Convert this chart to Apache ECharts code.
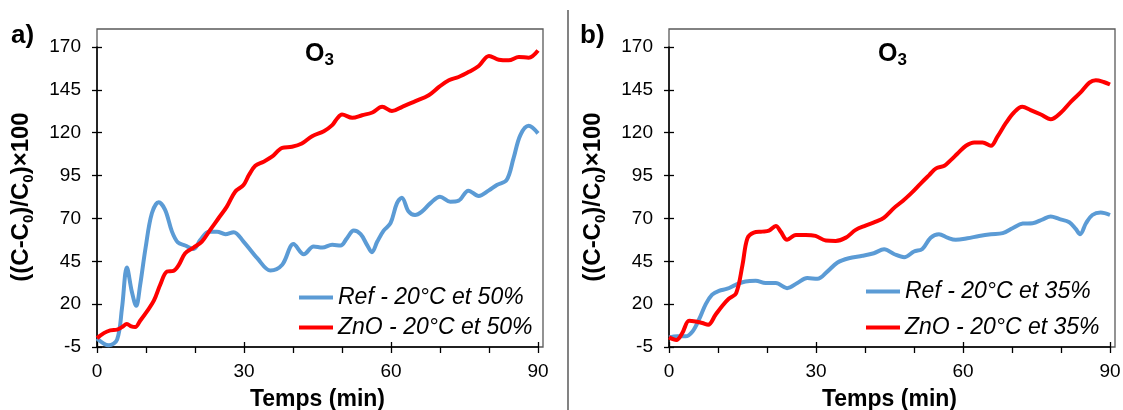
<!DOCTYPE html>
<html><head><meta charset="utf-8">
<script src="https://cdn.jsdelivr.net/npm/echarts@6/dist/echarts.min.js"></script>
<style>html,body{margin:0;padding:0;background:#fff}#c{width:1123px;height:410px}</style>
</head><body><div id="c"></div>
<script>
// ---- tick labels ----
const xTicks = [0, 30, 60, 90];
const yTicks = [-5, 20, 45, 70, 95, 120, 145, 170];

// ---- panel a) : 50 % RH ----
const refA_t = [0, 2.4, 4.1, 5.1, 6.1, 7.1, 8.0, 8.8, 9.9, 11.2, 12.6, 13.9, 15.3, 16.5, 18, 19.7, 21.1, 22.8, 24.5, 26.2, 27.9, 29.9, 32.7, 35.4, 37.8, 40.1, 42.2, 44.2, 46, 48, 49.7, 51, 52.4, 53.8, 55.1, 56.1, 57.2, 58.5, 59.9, 61.2, 62.2, 63.6, 64.9, 66.3, 68, 70, 72.1, 73.8, 75.8, 77.9, 79.9, 81.6, 83.6, 85, 86.4, 88.1, 90];
const refA_v = [0, -4, -0.7, 17.7, 41.4, 27.4, 19, 31, 52.6, 73, 79.4, 75, 62.3, 56, 54.2, 52.2, 57.5, 62.3, 62.3, 60.8, 62, 56.5, 46.8, 39.6, 43, 55.1, 49.1, 53.6, 53, 54.6, 54.2, 58.4, 62.9, 60.8, 54.6, 50.3, 56.5, 62.9, 67.2, 78.8, 82.1, 74, 72, 74, 78.8, 82.7, 79.8, 80.4, 86.2, 83.1, 86.2, 89.5, 92.4, 105, 118.6, 124, 119.6];
const znoA_t = [0, 1.4, 2.7, 4.1, 5.1, 6.1, 7, 7.8, 8.8, 10.2, 11.6, 12.9, 14.3, 15.6, 16.7, 18, 19.7, 21.4, 23.1, 24.8, 26.5, 28.2, 29.9, 31, 32.3, 34, 35.7, 37.8, 39.8, 41.8, 43.9, 46.3, 48, 49, 50, 52.1, 54.1, 56.2, 58.2, 60.2, 62.3, 65, 67.7, 69.8, 71.8, 73.8, 75.9, 77.9, 80, 82, 84, 86.1, 88.1, 90];
const znoA_v = [0.2, 3.1, 4.7, 5.1, 6.6, 8.4, 7, 6.6, 10.3, 15.8, 22, 31.3, 39, 39.4, 42.9, 49.7, 53, 56.5, 63.3, 70.1, 76.9, 85.6, 89.5, 95.3, 100.7, 103.1, 106, 111.2, 111.8, 113.7, 118, 120.9, 124.4, 128.3, 130.6, 128.7, 130.2, 131.8, 135.1, 132.6, 135.1, 138.4, 141.9, 146.7, 150.6, 152.5, 155.5, 158.9, 164.8, 162.6, 162.2, 164.2, 163.8, 168];

// ---- panel b) : 35 % RH ----
const refB_t = [0, 1.7, 3.4, 4.8, 6.1, 7.5, 8.8, 10.2, 11.9, 13.6, 15.6, 17.7, 19.7, 21.8, 24.1, 26.2, 28.2, 30.3, 32.3, 34.4, 36.7, 39.5, 41.8, 43.9, 46, 48, 50, 51.7, 53.4, 55.1, 56.8, 58.5, 60.9, 63.3, 65.7, 68.1, 70.1, 72.2, 74.2, 76.3, 77.9, 79.6, 81.7, 83, 83.9, 85.1, 86.4, 88.1, 90];
const refB_v = [0.6, 1.2, 1.2, 4.1, 10.9, 20, 25.5, 27.8, 29, 31.3, 33.2, 33.6, 32.3, 32.3, 29.3, 32.3, 35.2, 34.8, 39, 44.3, 46.8, 48.2, 49.7, 52, 49.1, 47.4, 50.7, 52.2, 58.8, 60.8, 58.8, 57.5, 58.4, 59.8, 60.8, 61.4, 64.3, 67, 67.2, 69.5, 71.1, 69.7, 67.8, 63.9, 60.8, 67.2, 72, 73.4, 72];
const znoB_t = [0, 1.5, 2.7, 4.1, 5.4, 6.8, 8, 9.5, 10.9, 12.2, 13.7, 15, 16, 17.3, 19, 20.4, 21.8, 22.8, 24.1, 25.9, 27.9, 29.9, 32, 34, 36.1, 38.1, 40.1, 42.2, 43.9, 46, 47.7, 49.4, 51.4, 53.1, 54.5, 56.2, 57.5, 58.9, 60.6, 62.3, 64, 65.7, 67, 68.7, 70.4, 72.1, 73.8, 75.9, 77.9, 80, 82, 84.1, 85.8, 87.1, 88.7, 90];
const znoB_v = [0.6, -0.9, 3.1, 10.3, 9.9, 9, 8, 13.8, 19.1, 23.1, 26.4, 42.9, 58.4, 61.7, 62.3, 62.9, 65.6, 62.3, 57.5, 60.4, 60.4, 59.8, 57.1, 56.9, 58.8, 63.3, 65.8, 68.1, 70.5, 76.3, 80.2, 84.6, 90.5, 95.3, 99.2, 100.7, 104, 107.9, 112.4, 114.3, 114.3, 112.4, 117.6, 125.4, 131.8, 135.1, 133.2, 130.6, 127.9, 131.8, 138, 143.8, 149.2, 150.6, 149.6, 148.1];

const seriesNames = ['Ref - 20°C et 50%', 'ZnO - 20°C et 50%', 'Ref - 20°C et 35%', 'ZnO - 20°C et 35%'];
const panelLabels = ['a)', 'b)'];
const xName = 'Temps (min)';
const yName = '((C-C{s|0})/C{s|0})×100';

const F = "'Liberation Sans', Arial, sans-serif";
const BLUE = '#5B9BD5', RED = '#FF0000';
const zip = (t, v) => t.map((x, i) => [x, v[i]]);

const grids = [
  {left: 97, top: 47, width: 441, height: 300, outerBoundsMode: 'none', containLabel: false},
  {left: 669, top: 47, width: 441, height: 300, outerBoundsMode: 'none', containLabel: false}
];
const xMin = xTicks[0], xMax = xTicks[xTicks.length - 1], xInt = xTicks[1] - xTicks[0];
const yMin = yTicks[0], yMax = yTicks[yTicks.length - 1], yInt = yTicks[1] - yTicks[0];

const xAxes = [], yAxes = [];
grids.forEach((g, gi) => {
  xAxes.push({
    gridIndex: gi, type: 'value', min: xMin, max: xMax, interval: xInt, position: 'bottom',
    axisLine: {onZero: false, lineStyle: {color: '#000', width: 1.5}},
    axisTick: {length: 6, lineStyle: {color: '#000', width: 1.3}},
    minorTick: {show: true, splitNumber: 3, length: 6, lineStyle: {color: '#000', width: 1.3}},
    splitLine: {show: false},
    axisLabel: {fontSize: 19, color: '#000', fontFamily: F, margin: 15},
    name: xName, nameLocation: 'middle', nameGap: 41,
    nameTextStyle: {fontSize: 23, fontWeight: 'bold', color: '#000', fontFamily: F}
  });
  xAxes.push({
    gridIndex: gi, type: 'value', min: xMin, max: xMax, interval: xInt, position: 'bottom',
    axisLine: {show: false, onZero: false},
    axisTick: {inside: true, length: 5, lineStyle: {color: '#000', width: 1.3}},
    axisLabel: {show: false}, splitLine: {show: false}
  });
  yAxes.push({
    gridIndex: gi, type: 'value', min: yMin, max: yMax, interval: yInt, position: 'left',
    axisLine: {show: true, onZero: false, lineStyle: {color: '#000', width: 1.5}},
    axisTick: {show: true, length: 5, lineStyle: {color: '#000', width: 1.3}},
    splitLine: {show: false},
    axisLabel: {fontSize: 19, color: '#000', fontFamily: F, margin: 16},
    name: yName, nameLocation: 'middle', nameRotate: 90, nameGap: 61,
    nameTextStyle: {fontSize: 24, fontWeight: 'bold', color: '#000', fontFamily: F, lineHeight: 30,
      rich: {s: {fontSize: 15, fontWeight: 'bold', color: '#000', fontFamily: F, verticalAlign: 'bottom', lineHeight: 15}}}
  });
  yAxes.push({
    gridIndex: gi, type: 'value', min: yMin, max: yMax, interval: yInt, position: 'left',
    axisLine: {show: false, onZero: false},
    axisTick: {show: true, inside: true, length: 5, lineStyle: {color: '#000', width: 1.3}},
    axisLabel: {show: false}, splitLine: {show: false}
  });
});

function line(name, data, color, gi) {
  return {
    name, type: 'line', data, xAxisIndex: gi * 2, yAxisIndex: gi * 2,
    smooth: 0.35, showSymbol: false, symbol: 'none',
    lineStyle: {color, width: 4}, itemStyle: {color},
    emphasis: {disabled: true}, animation: false, z: 3
  };
}

const legendCommon = {
  orient: 'vertical', icon: 'rect', itemWidth: 34, itemHeight: 4, padding: 0,
  textStyle: {fontSize: 23, fontStyle: 'italic', color: '#000', fontFamily: F, lineHeight: 23},
  selectedMode: false
};

const o3Rich = {
  o: {fontSize: 25, fontWeight: 'bold', color: '#000', fontFamily: F, lineHeight: 30},
  s: {fontSize: 17, fontWeight: 'bold', color: '#000', fontFamily: F, lineHeight: 17, verticalAlign: 'bottom'}
};

const option = {
  animation: false,
  backgroundColor: '#fff',
  grid: grids,
  xAxis: xAxes,
  yAxis: yAxes,
  title: [
    {text: panelLabels[0], left: 11, top: 23, padding: 0, textStyle: {fontSize: 26, fontWeight: 'bold', color: '#000', fontFamily: F}},
    {text: panelLabels[1], left: 580, top: 23, padding: 0, textStyle: {fontSize: 26, fontWeight: 'bold', color: '#000', fontFamily: F}},
    {text: '{o|O}{s|3}', left: 305, top: 39, padding: 0, textStyle: {rich: o3Rich}},
    {text: '{o|O}{s|3}', left: 878, top: 39, padding: 0, textStyle: {rich: o3Rich}}
  ],
  legend: [
    Object.assign({data: [seriesNames[0], seriesNames[1]], left: 299, top: 286, itemGap: 7}, legendCommon),
    Object.assign({data: [seriesNames[2], seriesNames[3]], left: 866, top: 280, itemGap: 13}, legendCommon)
  ],
  graphic: [
    {type: 'rect', shape: {x: 97, y: 29, width: 446, height: 318}, style: {fill: null, stroke: '#595959', lineWidth: 1.3}, z: 0, silent: true},
    {type: 'rect', shape: {x: 669, y: 29, width: 446, height: 318}, style: {fill: null, stroke: '#595959', lineWidth: 1.3}, z: 0, silent: true},
    {type: 'line', shape: {x1: 568, y1: 10, x2: 568, y2: 410}, style: {stroke: '#404040', lineWidth: 1.3}, silent: true}
  ],
  series: [
    line(seriesNames[0], zip(refA_t, refA_v), BLUE, 0),
    line(seriesNames[1], zip(znoA_t, znoA_v), RED, 0),
    line(seriesNames[2], zip(refB_t, refB_v), BLUE, 1),
    line(seriesNames[3], zip(znoB_t, znoB_v), RED, 1)
  ]
};
const chart = echarts.init(document.getElementById('c'), null, {renderer: 'canvas'});
chart.setOption(option);
</script></body></html>
